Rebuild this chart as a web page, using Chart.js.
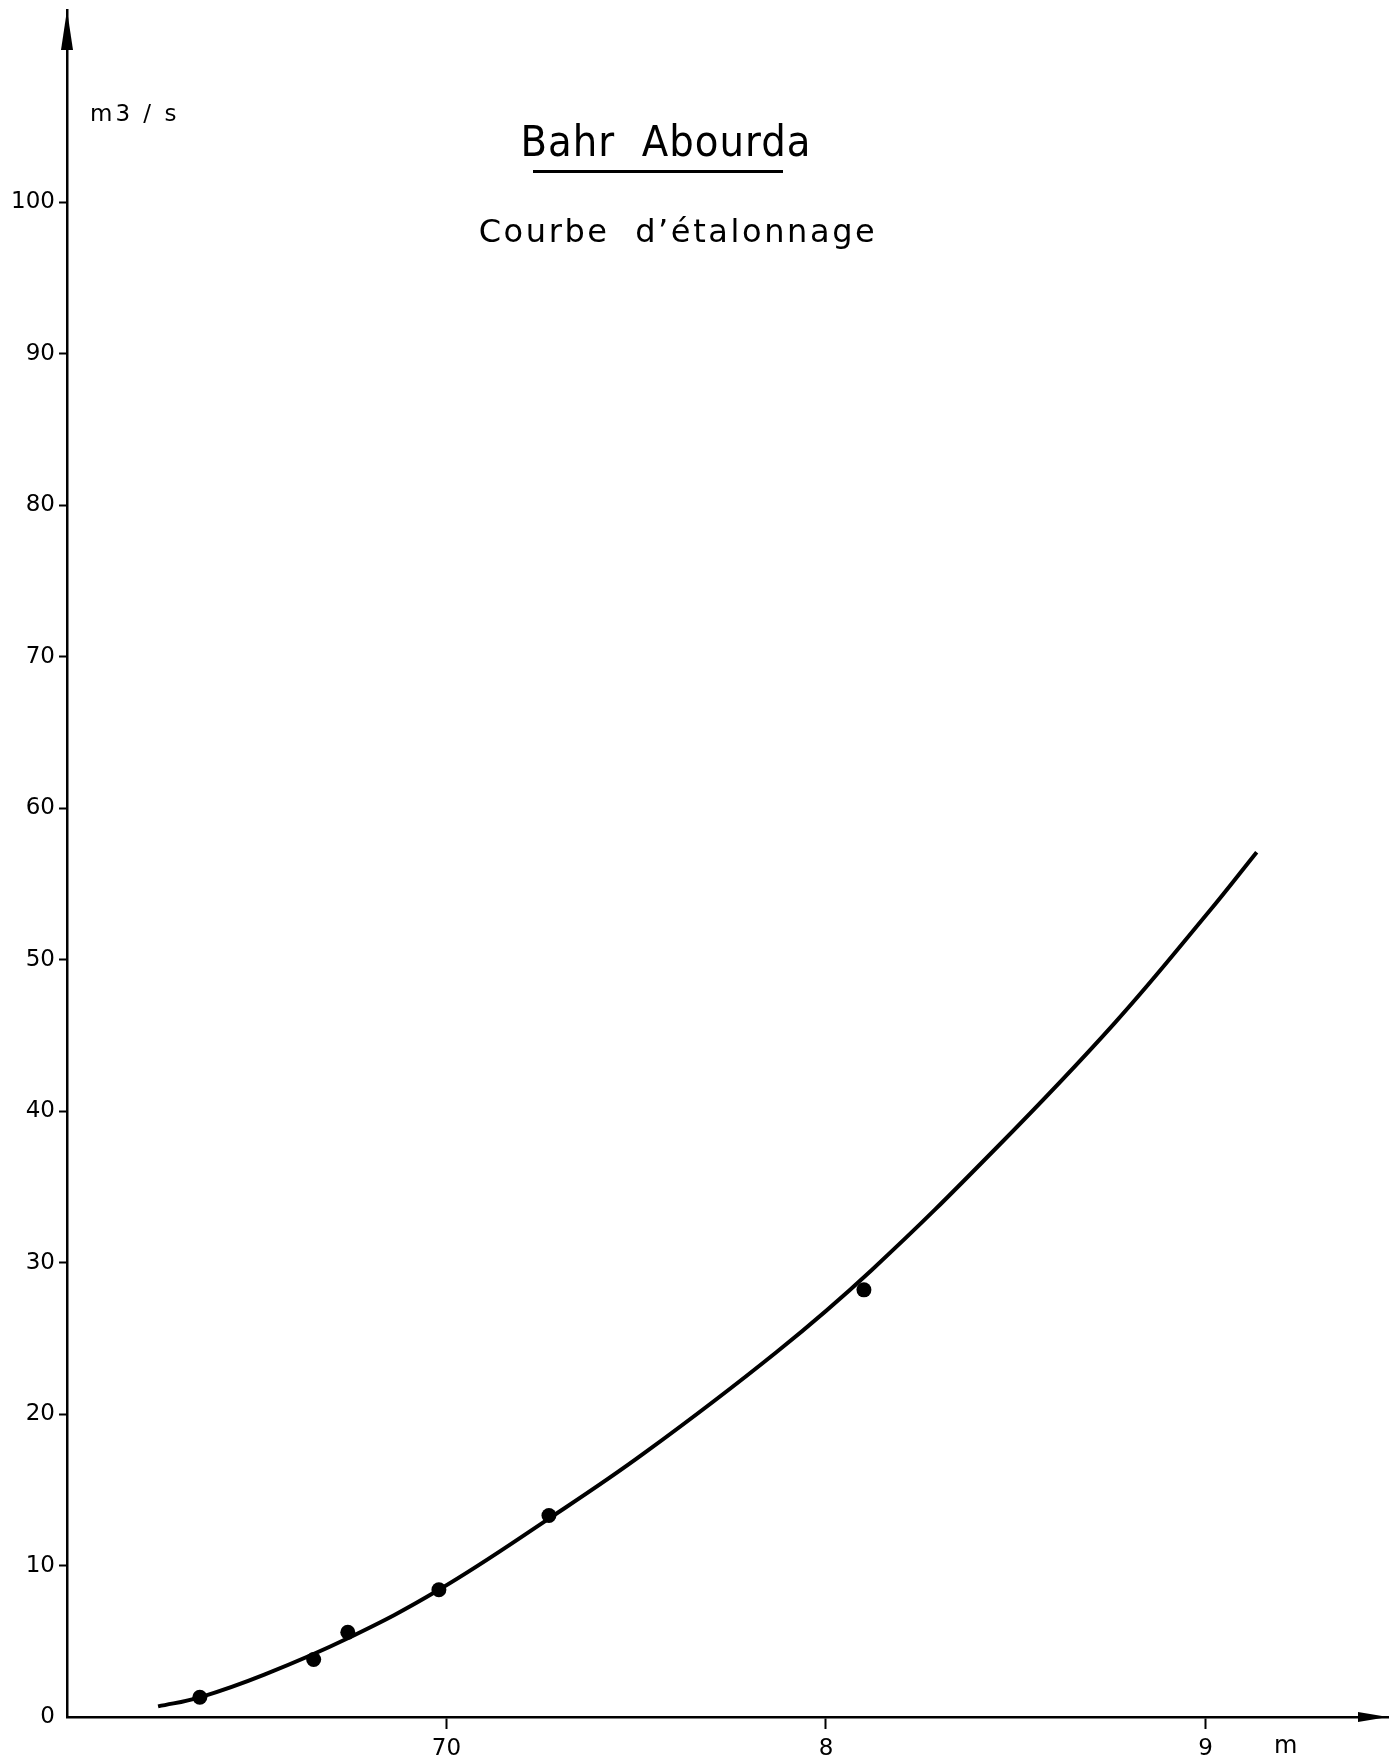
<!DOCTYPE html>
<html>
<head>
<meta charset="utf-8">
<script src="https://cdn.jsdelivr.net/npm/chart.js@4.4.1/dist/chart.umd.min.js"></script>
<style>
  html, body { margin: 0; padding: 0; background: #fff; }
  #wrap { position: relative; width: 1396px; height: 1760px; }
  canvas { position: absolute; left: 0; top: 0; }
  .txt { position: absolute; color: #000; white-space: pre; line-height: 1; font-family: "DejaVu Sans", sans-serif; }
  #title { font-family: "DejaVu Sans Condensed", "DejaVu Sans", sans-serif; font-stretch: condensed; font-size: 43px; letter-spacing: 1px; left: 666px; top: 120px; transform: translateX(-50%); }
  #underline { position: absolute; left: 533px; top: 170px; width: 250px; height: 3px; background: #000; }
  #subtitle { font-size: 32px; letter-spacing: 2.6px; left: 678px; top: 215px; transform: translateX(-50%); }
  #yunit { font-size: 23px; letter-spacing: 3px; left: 90px; top: 102px; }
  #xunit { font-size: 24px; left: 1274px; top: 1733px; }
</style>
</head>
<body>
<div id="wrap">
  <canvas id="c" width="1396" height="1760"></canvas>
  <div class="txt" id="title">Bahr  Abourda</div>
  <div id="underline"></div>
  <div class="txt" id="subtitle">Courbe  d’étalonnage</div>
  <div class="txt" id="yunit">m3 / s</div>
  <div class="txt" id="xunit">m</div>
</div>
<script>
// Rating curve (stage in m, discharge in m3/s)
const curveStage     = [6.24, 6.35, 6.52, 6.74, 6.98, 7.27, 7.52, 7.87, 8.12, 8.45, 8.76, 9.01, 9.135];
const curveDischarge = [0.7,  1.3,  2.8,  5.2,  8.4,  13.1, 17.4, 24.1, 29.5, 37.6, 45.8, 53.2, 57.1];

// Gaugings (measured points)
const obsStage     = [6.35, 6.65, 6.74, 6.98, 7.27, 8.10];
const obsDischarge = [1.3,  3.8,  5.6,  8.4,  13.3, 28.2];

// Axis ticks
const xTickValues = [7, 8, 9];
const xTickLabels = ['70', '8', '9'];
const yTickValues = [0, 10, 20, 30, 40, 50, 60, 70, 80, 90, 100];

const X_MIN = 6.0, X_MAX = 9.481;
const Y_MIN = 0, Y_MAX = 112.7;

const curveData = curveStage.map((x, i) => ({ x: x, y: curveDischarge[i] }));
const obsData = obsStage.map((x, i) => ({ x: x, y: obsDischarge[i] }));

const arrowPlugin = {
  id: 'arrows',
  afterDraw(chart) {
    const ctx = chart.ctx;
    const a = chart.chartArea;
    ctx.save();
    ctx.fillStyle = '#000';
    // y axis arrow (top)
    ctx.beginPath();
    ctx.moveTo(a.left, a.top);
    ctx.lineTo(a.left - 6, a.top + 40);
    ctx.lineTo(a.left + 6, a.top + 40);
    ctx.closePath();
    ctx.fill();
    // x axis arrow (right)
    ctx.beginPath();
    ctx.moveTo(a.right, a.bottom);
    ctx.lineTo(a.right - 30, a.bottom - 5);
    ctx.lineTo(a.right - 30, a.bottom + 5);
    ctx.closePath();
    ctx.fill();
    ctx.restore();
  }
};

new Chart(document.getElementById('c'), {
  type: 'scatter',
  data: {
    datasets: [
      {
        label: 'courbe',
        data: curveData,
        showLine: true,
        borderColor: '#000',
        borderWidth: 4,
        pointRadius: 0,
        tension: 0.4,
        fill: false
      },
      {
        label: 'jaugeages',
        data: obsData,
        showLine: false,
        pointRadius: 7.5,
        pointBackgroundColor: '#000',
        pointBorderColor: '#000',
        pointBorderWidth: 0
      }
    ]
  },
  options: {
    responsive: false,
    animation: false,
    layout: { padding: { top: 10, right: 8, left: 0, bottom: 0 } },
    plugins: { legend: { display: false }, tooltip: { enabled: false }, title: { display: false } },
    scales: {
      x: {
        type: 'linear',
        min: X_MIN, max: X_MAX,
        afterBuildTicks: (s) => { s.ticks = xTickValues.map(v => ({ value: v })); },
        afterFit: (s) => { s.height = 43; s.paddingLeft = 0; s.paddingRight = 0; },
        ticks: {
          color: '#000',
          font: { family: 'DejaVu Sans', size: 23 },
          padding: 6,
          maxRotation: 0,
          autoSkip: false,
          callback: (v) => { const i = xTickValues.indexOf(v); return i >= 0 ? xTickLabels[i] : ''; }
        },
        grid: { display: true, drawOnChartArea: false, drawTicks: true, tickLength: 12, tickColor: '#000', tickWidth: 2 },
        border: { display: true, color: '#000', width: 2.5 }
      },
      y: {
        type: 'linear',
        min: Y_MIN, max: Y_MAX,
        afterBuildTicks: (s) => { s.ticks = yTickValues.map(v => ({ value: v })); },
        afterFit: (s) => { s.width = 67; s.paddingTop = 0; s.paddingBottom = 0; },
        ticks: {
          color: '#000',
          font: { family: 'DejaVu Sans', size: 23 },
          padding: 4,
          autoSkip: false,
          callback: (v) => String(v)
        },
        grid: {
          display: true, drawOnChartArea: false, drawTicks: true, tickLength: 8, tickWidth: 2,
          tickColor: (c) => (c.tick && c.tick.value === 0) ? 'rgba(0,0,0,0)' : '#000'
        },
        border: { display: true, color: '#000', width: 2.5 }
      }
    }
  },
  plugins: [arrowPlugin]
});
</script>
</body>
</html>
